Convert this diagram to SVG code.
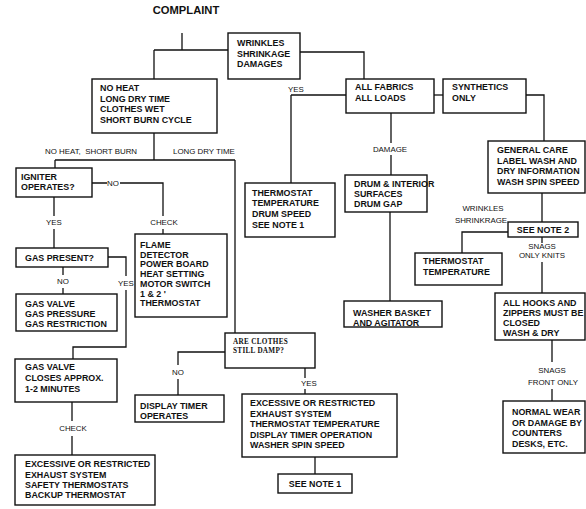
<svg xmlns="http://www.w3.org/2000/svg" width="586" height="509" viewBox="0 0 586 509">
<style>
.b{fill:#fff;stroke:#111;stroke-width:1.4}
.c{fill:none;stroke:#111;stroke-width:1.3}
.t{font-family:"Liberation Sans",Arial,sans-serif;font-weight:bold;font-size:8.9px;fill:#111}
.l{font-family:"Liberation Sans",Arial,sans-serif;font-size:7.9px;fill:#111}
.m{text-anchor:middle}
.s{font-family:"Liberation Serif","Times New Roman",serif;font-weight:bold;font-size:7.2px;letter-spacing:0.3px;fill:#111}
</style>
<rect width="586" height="509" fill="#fff"/>
<text class="t m" x="186" y="14" style="font-size:11.2px">COMPLAINT</text>
<g id="connectors">
<path class="c" d="M182,33 V50 M154,50 H228 M154,50 V79"/>
<path class="c" d="M300,52 H364 V79"/>
<path class="c" d="M291,95 H346 M291,95 V183"/>
<path class="c" d="M434,95 H443"/>
<path class="c" d="M526,95 H544 V141"/>
<path class="c" d="M391,113 V143 M391,155 V175"/>
<path class="c" d="M390,212 V301"/>
<path class="c" d="M542,193 V222"/>
<path class="c" d="M508,232 H462 V253"/>
<path class="c" d="M542,237 V243 M542,262 V293"/>
<path class="c" d="M552,340 V362 M552,389 V401"/>
<path class="c" d="M154,133 V160 M55,160 H235 M55,160 V168 M235,160 V333"/>
<path class="c" d="M92,183 H107 M120,183 H163 V216 M163,229 V234"/>
<path class="c" d="M54,197 V216 M54,229 V248"/>
<path class="c" d="M108,257 H126 V276 M126,290 V347 H73 V359"/>
<path class="c" d="M63,267 V275 M63,288 V294"/>
<path class="c" d="M72,402 V421 M72,436 V455"/>
<path class="c" d="M225,352 H178 V365 M178,379 V395"/>
<path class="c" d="M305,368 V378 M305,389 V394"/>
<path class="c" d="M315,457 V474"/>
</g>
<g id="labels">
<text class="l" x="45" y="154" xml:space="preserve">NO HEAT,  SHORT BURN</text>
<text class="l" x="173" y="154">LONG DRY TIME</text>
<text class="l" x="288" y="92">YES</text>
<text class="l m" x="113" y="186">NO</text>
<text class="l m" x="164" y="225">CHECK</text>
<text class="l m" x="54" y="225">YES</text>
<text class="l m" x="63" y="284">NO</text>
<text class="l m" x="126" y="286">YES</text>
<text class="l m" x="73" y="431">CHECK</text>
<text class="l m" x="178" y="375">NO</text>
<text class="l m" x="309" y="386">YES</text>
<text class="l m" x="390" y="152">DAMAGE</text>
<text class="l m" x="483" y="211">WRINKLES</text>
<text class="l m" x="481" y="223">SHRINKRAGE</text>
<text class="l m" x="542" y="249">SNAGS</text>
<text class="l m" x="542" y="258">ONLY KNITS</text>
<text class="l m" x="552" y="373">SNAGS</text>
<text class="l m" x="553" y="385">FRONT ONLY</text>
</g>
<g id="wrinkles"><rect class="b" x="228" y="33" width="72" height="46"/>
<text class="t" x="237" y="46">WRINKLES</text><text class="t" x="237" y="56.5">SHRINKAGE</text><text class="t" x="237" y="67">DAMAGES</text></g>
<g id="noheat"><rect class="b" x="92" y="79" width="125" height="54"/>
<text class="t" x="100" y="91">NO HEAT</text><text class="t" x="100" y="101.5">LONG DRY TIME</text><text class="t" x="100" y="112">CLOTHES WET</text><text class="t" x="100" y="123">SHORT BURN CYCLE</text></g>
<g id="igniter"><rect class="b" x="16" y="168" width="76" height="29"/>
<text class="t" x="21" y="180">IGNITER</text><text class="t" x="21" y="190">OPERATES?</text></g>
<g id="flame"><rect class="b" x="135" y="234" width="92" height="83"/>
<text class="t" x="140" y="248">FLAME</text><text class="t" x="140" y="257.7">DETECTOR</text><text class="t" x="140" y="267.4">POWER BOARD</text><text class="t" x="140" y="277.1">HEAT SETTING</text><text class="t" x="140" y="286.8">MOTOR SWITCH</text><text class="t" x="140" y="296.5">1 &amp; 2 '</text><text class="t" x="140" y="306.2">THERMOSTAT</text></g>
<g id="gaspresent"><rect class="b" x="16" y="248" width="92" height="19"/>
<text class="t" x="25" y="261">GAS PRESENT?</text></g>
<g id="gasvalve"><rect class="b" x="16" y="294" width="101" height="37"/>
<text class="t" x="25" y="307">GAS VALVE</text><text class="t" x="25" y="317">GAS PRESSURE</text><text class="t" x="25" y="327">GAS RESTRICTION</text></g>
<g id="gasvalvecloses"><rect class="b" x="15" y="359" width="102" height="43"/>
<text class="t" x="25" y="370">GAS VALVE</text><text class="t" x="25" y="381">CLOSES APPROX.</text><text class="t" x="25" y="392">1-2 MINUTES</text></g>
<g id="excessiveleft"><rect class="b" x="15" y="455" width="140" height="50"/>
<text class="t" x="25" y="467">EXCESSIVE OR RESTRICTED</text><text class="t" x="25" y="478">EXHAUST SYSTEM</text><text class="t" x="25" y="488">SAFETY THERMOSTATS</text><text class="t" x="25" y="498">BACKUP THERMOSTAT</text></g>
<g id="thermostatmid"><rect class="b" x="245" y="183" width="90" height="54"/>
<text class="t" x="252" y="196">THERMOSTAT</text><text class="t" x="252" y="206">TEMPERATURE</text><text class="t" x="252" y="217">DRUM SPEED</text><text class="t" x="252" y="228">SEE NOTE 1</text></g>
<g id="allfabrics"><rect class="b" x="346" y="79" width="88" height="34"/>
<text class="t" x="355" y="90">ALL FABRICS</text><text class="t" x="355" y="101">ALL LOADS</text></g>
<g id="synthetics"><rect class="b" x="443" y="79" width="83" height="34"/>
<text class="t" x="452" y="90">SYNTHETICS</text><text class="t" x="452" y="101">ONLY</text></g>
<g id="generalcare"><rect class="b" x="488" y="141" width="97" height="52"/>
<text class="t" x="497" y="153">GENERAL CARE</text><text class="t" x="497" y="164">LABEL WASH AND</text><text class="t" x="497" y="174">DRY INFORMATION</text><text class="t" x="497" y="185">WASH SPIN SPEED</text></g>
<g id="drum"><rect class="b" x="345" y="175" width="82" height="37"/>
<text class="t" x="354" y="187">DRUM &amp; INTERIOR</text><text class="t" x="354" y="197">SURFACES</text><text class="t" x="354" y="207">DRUM GAP</text></g>
<g id="washerbasket"><rect class="b" x="344" y="301" width="98" height="26"/>
<text class="t" x="353" y="316">WASHER BASKET</text><text class="t" x="353" y="326">AND AGITATOR</text></g>
<g id="seenote2"><rect class="b" x="508" y="222" width="70" height="15"/>
<text class="t m" x="543" y="233">SEE NOTE 2</text></g>
<g id="thermostatright"><rect class="b" x="415" y="253" width="87" height="32"/>
<text class="t" x="423" y="264">THERMOSTAT</text><text class="t" x="423" y="275">TEMPERATURE</text></g>
<g id="allhooks"><rect class="b" x="495" y="293" width="90" height="47"/>
<text class="t" x="503" y="306">ALL HOOKS AND</text><text class="t" x="503" y="316">ZIPPERS MUST BE</text><text class="t" x="503" y="326">CLOSED</text><text class="t" x="503" y="336">WASH &amp; DRY</text></g>
<g id="normalwear"><rect class="b" x="503" y="401" width="82" height="52"/>
<text class="t" x="512" y="415">NORMAL WEAR</text><text class="t" x="512" y="426">OR DAMAGE BY</text><text class="t" x="512" y="436">COUNTERS</text><text class="t" x="512" y="447">DESKS, ETC.</text></g>
<g id="areclothes"><rect class="b" x="225" y="333" width="90" height="35"/>
<text class="s" x="233" y="344">ARE CLOTHES</text><text class="s" x="233" y="353">STILL DAMP?</text></g>
<g id="displaytimer"><rect class="b" x="135" y="395" width="89" height="27"/>
<text class="t" x="140" y="409">DISPLAY TIMER</text><text class="t" x="140" y="419">OPERATES</text></g>
<g id="excessivemid"><rect class="b" x="242" y="394" width="155" height="63"/>
<text class="t" x="250" y="406">EXCESSIVE OR RESTRICTED</text><text class="t" x="250" y="416.5">EXHAUST SYSTEM</text><text class="t" x="250" y="427">THERMOSTAT TEMPERATURE</text><text class="t" x="250" y="437.5">DISPLAY TIMER OPERATION</text><text class="t" x="250" y="448">WASHER SPIN SPEED</text></g>
<g id="seenote1"><rect class="b" x="278" y="474" width="74" height="19"/>
<text class="t m" x="315" y="487">SEE NOTE 1</text></g>
</svg>
